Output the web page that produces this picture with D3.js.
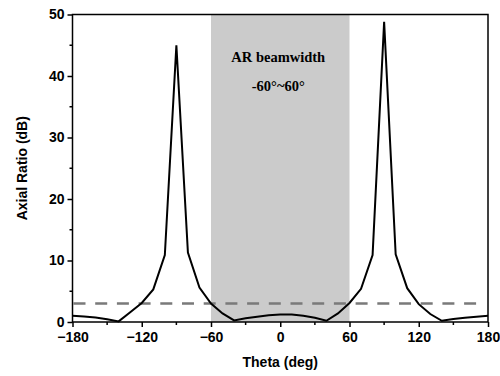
<!DOCTYPE html>
<html>
<head>
<meta charset="utf-8">
<script src="https://cdn.jsdelivr.net/npm/d3@7"></script>
<style>
  body { margin: 0; background: #fff; }
  svg { display: block; }
</style>
</head>
<body>
<svg id="chart" width="500" height="376"></svg>
<script>
// ---- data ----
const theta = [-180,-170,-160,-150,-140,-130,-120,-110,-100,-90,-80,-70,-60,-50,-40,-30,-20,-10,0,
               10,20,30,40,50,60,70,80,90,100,110,120,130,140,150,160,170,180];
const axialRatio = [1.0,0.9,0.75,0.45,0.1,1.6,3.1,5.3,10.9,45.0,11.3,5.6,3.0,1.4,0.25,0.6,0.85,1.1,1.2,
                    1.2,1.0,0.7,0.2,1.4,3.1,5.4,10.9,48.8,11.0,5.5,2.9,1.3,0.2,0.5,0.7,0.87,1.0];
const beamRange = [-60, 60];
const thresholdDB = 3;
const xTicks = [-180,-120,-60,0,60,120,180];
const yTicks = [0,10,20,30,40,50];
const xMinorTicks = [-150,-90,-30,30,90,150];
const yMinorTicks = [5,15,25,35,45];
const xTitle = "Theta (deg)";
const yTitle = "Axial Ratio (dB)";
const noteLines = ["AR beamwidth", "-60°~60°"];

// ---- layout ----
const svg = d3.select("#chart");
const L = 72.5, R = 488, T = 14.5, B = 322;
const x = d3.scaleLinear().domain([-180, 180]).range([L, R]);
const y = d3.scaleLinear().domain([0, 50]).range([B, T]);

// shaded beamwidth region
svg.append("rect")
  .attr("x", x(beamRange[0])).attr("y", T)
  .attr("width", x(beamRange[1]) - x(beamRange[0]))
  .attr("height", B - T)
  .attr("fill", "#cbcbcb");

// threshold dashed line
const dash = 12, gap = 9.7;
svg.append("line")
  .attr("x1", x(-180) + 1).attr("x2", x(-180) + 1 + 18 * (dash + gap) + dash)
  .attr("y1", y(thresholdDB)).attr("y2", y(thresholdDB))
  .attr("stroke", "#7a7a7a").attr("stroke-width", 2.6)
  .attr("stroke-dasharray", `${dash},${gap}`);

// curve
const line = d3.line().x((d, i) => x(theta[i])).y(d => y(d)).curve(d3.curveLinear);
svg.append("path")
  .datum(axialRatio)
  .attr("d", line)
  .attr("fill", "none")
  .attr("stroke", "#000")
  .attr("stroke-width", 2)
  .attr("stroke-linejoin", "miter")
  .attr("stroke-miterlimit", 10);

// frame
svg.append("rect")
  .attr("x", L).attr("y", T).attr("width", R - L).attr("height", B - T)
  .attr("fill", "none").attr("stroke", "#000").attr("stroke-width", 1.5);

// axes
const fontTick = "bold 14px Arial, 'Liberation Sans', sans-serif";
const xAxis = d3.axisBottom(x).tickValues(xTicks).tickSize(5).tickPadding(3).tickFormat(d3.format("d"));
const gx = svg.append("g").attr("transform", `translate(0,${B})`).call(xAxis);
const yAxis = d3.axisLeft(y).tickValues(yTicks).tickSize(5).tickPadding(3).tickFormat(d3.format("d"));
const gy = svg.append("g").attr("transform", `translate(${L},0)`).call(yAxis);
[gx, gy].forEach(g => {
  g.select(".domain").remove();
  g.selectAll(".tick line").attr("stroke", "#000").attr("stroke-width", 1.5);
  g.selectAll(".tick text").attr("fill", "#000").style("font", fontTick);
});
gx.selectAll(".tick text").attr("dy", "0.85em");

// minor ticks
svg.append("g").selectAll("line").data(xMinorTicks).join("line")
  .attr("x1", d => x(d)).attr("x2", d => x(d))
  .attr("y1", B).attr("y2", B + 3)
  .attr("stroke", "#000").attr("stroke-width", 1.5);
svg.append("g").selectAll("line").data(yMinorTicks).join("line")
  .attr("x1", L).attr("x2", L - 3)
  .attr("y1", d => y(d)).attr("y2", d => y(d))
  .attr("stroke", "#000").attr("stroke-width", 1.5);

// axis titles
svg.append("text")
  .attr("x", (L + R) / 2).attr("y", 367)
  .attr("text-anchor", "middle")
  .style("font", "bold 14px Arial, 'Liberation Sans', sans-serif")
  .text(xTitle);
svg.append("text")
  .attr("transform", `translate(27,${(T + B) / 2}) rotate(-90)`)
  .attr("text-anchor", "middle")
  .style("font", "bold 14px Arial, 'Liberation Sans', sans-serif")
  .text(yTitle);

// annotation
const cx = (x(beamRange[0]) + x(beamRange[1])) / 2 - 2;
svg.append("text")
  .attr("x", cx).attr("y", 62)
  .attr("text-anchor", "middle")
  .style("font", "bold 14.5px 'Times New Roman', 'Liberation Serif', serif")
  .text(noteLines[0]);
svg.append("text")
  .attr("x", cx).attr("y", 91)
  .attr("text-anchor", "middle")
  .style("font", "bold 14.5px 'Times New Roman', 'Liberation Serif', serif")
  .text(noteLines[1]);
</script>
</body>
</html>
